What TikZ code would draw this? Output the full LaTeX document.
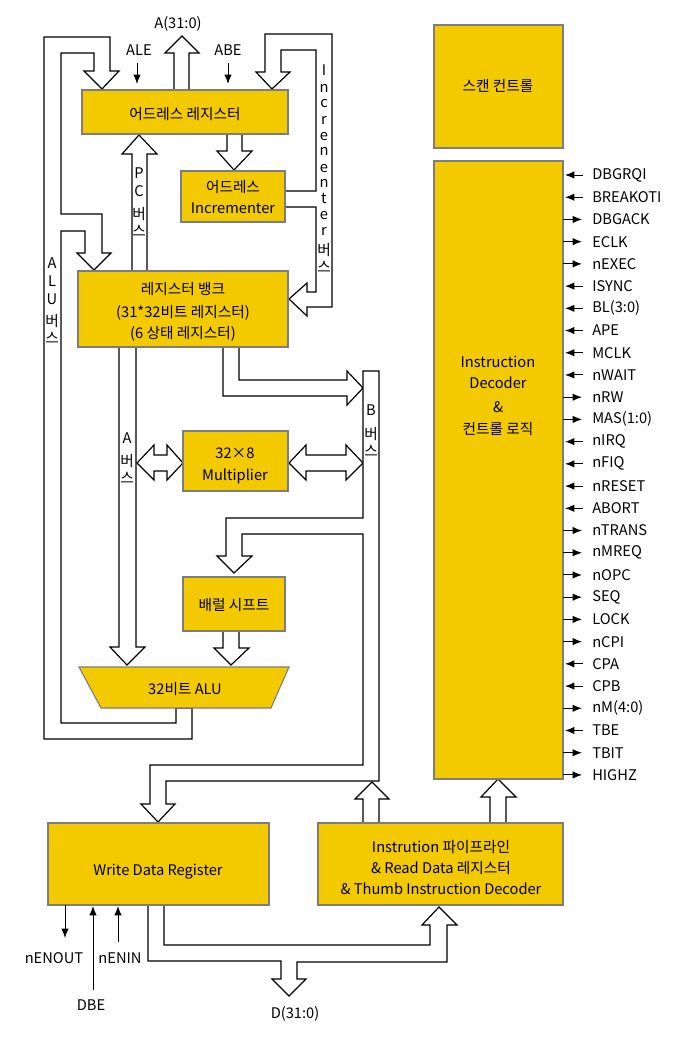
\documentclass[tikz,border=0pt]{standalone}
\usepackage{fontspec}
\setmainfont{Noto Sans CJK KR}
\usetikzlibrary{arrows.meta,fit}
\definecolor{boxyellow}{RGB}{243,201,0}
\definecolor{boxedge}{RGB}{125,125,125}
\begin{document}
\begin{tikzpicture}[x=0.75pt,y=-0.75pt,
  font=\fontsize{11}{16}\selectfont,
  bus/.style={draw=black,fill=white,line width=0.9pt,line join=miter},
  blk/.style={draw=boxedge,fill=boxyellow,line width=0.8pt,inner sep=0pt},
  sig/.style={line width=0.75pt,-{Latex[length=7pt,width=5.5pt]}},
  lbl/.style={inner sep=0pt},
  txt/.style={inner sep=0pt,anchor=base}]
\useasboundingbox (0,0) rectangle (690,1046);

% ---------- buses (drawn first, boxes on top) ----------
% A(31:0) output
\path[bus] (174,90) -- (174,53) -- (165,53) -- (182,36) -- (199,53) -- (189,53) -- (189,90) -- cycle;
% ALU bus
\path[bus] (192,708) -- (192,739) -- (44,739) -- (44,37) -- (110,37) -- (110,71) -- (119,71) -- (102,89)
  -- (84,71) -- (94,71) -- (94,53) -- (61,53) -- (61,214) -- (102,214) -- (102,253) -- (111,253)
  -- (94,270) -- (77,253) -- (85,253) -- (85,231) -- (61,231) -- (61,723) -- (176,723) -- (176,708) -- cycle;
% PC bus
\path[bus] (132,271) -- (132,154) -- (122,154) -- (139,135) -- (157,154) -- (147,154) -- (147,271) -- cycle;
% address register -> incrementer
\path[bus] (227,134) -- (227,151) -- (217,151) -- (234,170) -- (252,151) -- (242,151) -- (242,134) -- cycle;
% incrementer bus
\path[bus] (285,191) -- (316,191) -- (316,50) -- (281,50) -- (281,72) -- (290,72) -- (272,89) -- (256,72)
  -- (265,72) -- (265,34) -- (332,34) -- (332,307) -- (307,307) -- (307,316) -- (289,299) -- (307,283)
  -- (307,292) -- (316,292) -- (316,207) -- (285,207) -- cycle;
% A bus
\path[bus] (119,347) -- (119,647) -- (110,647) -- (127,665) -- (145,647) -- (136,647) -- (136,347) -- cycle;
% double arrows to multiplier
\path[bus] (137,463) -- (154,445) -- (154,455) -- (167,455) -- (167,445) -- (183,463) -- (167,480)
  -- (167,471) -- (154,471) -- (154,480) -- cycle;
\path[bus] (289,463) -- (306,445) -- (306,455) -- (346,455) -- (346,445) -- (363,463) -- (346,480)
  -- (346,471) -- (306,471) -- (306,480) -- cycle;
% register bank -> B bus
\path[bus] (223,347) -- (223,396) -- (347,396) -- (347,405) -- (363,388) -- (347,371) -- (347,380)
  -- (239,380) -- (239,347) -- cycle;
% B bus
\path[bus] (363,371) -- (379,371) -- (379,781) -- (166,781) -- (166,804) -- (175,804) -- (158,822)
  -- (141,804) -- (150,804) -- (150,765) -- (363,765) -- (363,534) -- (242,534) -- (242,556)
  -- (252,556) -- (234,573) -- (217,556) -- (226,556) -- (226,518) -- (363,518) -- cycle;
% barrel shifter -> ALU
\path[bus] (223,631) -- (223,648) -- (214,648) -- (231,665) -- (249,648) -- (239,648) -- (239,631) -- cycle;
% pipeline -> B bus
\path[bus] (363,823) -- (363,799) -- (355,799) -- (372,782) -- (389,799) -- (379,799) -- (379,823) -- cycle;
% pipeline -> decoder
\path[bus] (490,823) -- (490,797) -- (481,797) -- (498,779) -- (516,797) -- (506,797) -- (506,823) -- cycle;
% data bus
\path[bus] (148,905) -- (148,961) -- (281,961) -- (281,979) -- (272,979) -- (289,996) -- (306,979)
  -- (297,979) -- (297,962) -- (447,962) -- (447,925) -- (457,925) -- (439,907) -- (422,925)
  -- (430,925) -- (430,945) -- (164,945) -- (164,905) -- cycle;

% ---------- blocks ----------
\node[blk,fit={(82,90) (288,134)}] (ar) {};
\node[blk,fit={(181,171) (285,222)}] (inc) {};
\node[blk,fit={(78,271) (288,347)}] (rb) {};
\node[blk,fit={(183,431) (288,491)}] (mul) {};
\node[blk,fit={(183,577) (285,631)}] (bs) {};
\path[draw=boxedge,fill=boxyellow,line width=0.8pt] (79,667) -- (289,667) -- (271,708) -- (101,708) -- cycle;
\node[blk,fit={(48,823) (269,905)}] (wdr) {};
\node[blk,fit={(318,823) (563,905)}] (ipl) {};
\node[blk,fit={(434,25) (563,148)}] (scan) {};
\node[blk,fit={(434,161) (563,779)}] (dec) {};

% ---------- block texts (base lines) ----------
\node[txt] (art) at (185,119) {어드레스 레지스터};
\node[txt] (inct1) at (233,192) {어드레스};
\node[txt] (inct2) at (233,213) {Incrementer};
\node[txt] (rbt1) at (183,294) {레지스터 뱅크};
\node[txt] (rbt2) at (183,317) {(31*32비트 레지스터)};
\node[txt] (rbt3) at (183,338) {(6 상태 레지스터)};
\node[txt] (mult1) at (235,458) {32×8};
\node[txt] (mult2) at (235,480) {Multiplier};
\node[txt] (bst) at (234,610) {배럴 시프트};
\node[txt] (alut) at (185,694) {32비트 ALU};
\node[txt] (wdrt) at (158,875) {Write Data Register};
\node[txt] (iplt1) at (441,852) {Instrution 파이프라인};
\node[txt] (iplt2) at (441,873) {\& Read Data 레지스터};
\node[txt] (iplt3) at (441,894) {\& Thumb Instruction Decoder};
\node[txt] (scant) at (498,91) {스캔 컨트롤};
\node[txt] (dect1) at (498,367) {Instruction};
\node[txt] (dect2) at (498,388) {Decoder};
\node[txt] (dect3) at (498,412) {\&};
\node[txt] (dect4) at (498,434) {컨트롤 로직};

% ---------- top labels ----------
\node[txt] (aout) at (178,28) {A(31:0)};
\node[txt] (ale) at (139,55) {ALE};
\node[txt] (abe) at (228,55) {ABE};
\coordinate (aleS) at (137,63);
\coordinate (abeS) at (228,63);
\draw[sig] (aleS) -- (137,84);
\draw[sig] (abeS) -- (228,84);

% ---------- vertical bus labels ----------
\foreach \c/\yy [count=\k] in {A/268,L/286,U/304,버/326,스/343}
  \node[txt] (alul\k) at (52,\yy) {\c};
\foreach \c/\yy [count=\k] in {P/178,C/196,버/219,스/236}
  \node[txt] (pcl\k) at (139,\yy) {\c};
\foreach \c/\yy [count=\k] in {I/75,n/92,c/107,r/124,e/140,n/155,e/172,n/187,t/203,e/219,r/235,버/255,스/272}
  \node[txt] (incl\k) at (324,\yy) {\c};
\foreach \c/\yy [count=\k] in {A/443,버/466,스/483}
  \node[txt] (abl\k) at (127,\yy) {\c};
\foreach \c/\yy [count=\k] in {B/415,버/439,스/456}
  \node[txt] (bbl\k) at (371,\yy) {\c};

% ---------- decoder signals ----------
\foreach \nm/\d [count=\i from 0] in {DBGRQI/i,BREAKOTI/i,DBGACK/o,ECLK/o,nEXEC/o,ISYNC/i,BL(3:0)/i,APE/i,MCLK/i,nWAIT/i,nRW/o,MAS(1:0)/o,nIRQ/i,nFIQ/i,nRESET/i,ABORT/i,nTRANS/o,nMREQ/o,nOPC/o,SEQ/o,LOCK/o,nCPI/o,CPA/i,CPB/i,nM(4:0)/o,TBE/i,TBIT/o,HIGHZ/o}{
  \node[lbl,anchor=west] (sg\i) at (592,175+22.22*\i) {\nm};
  \coordinate (so\i) at (563,175+22.22*\i);
  \coordinate (si\i) at (583,175+22.22*\i);
  \if o\d
    \draw[sig] (so\i) -- (582,175+22.22*\i);
  \else
    \draw[sig] (si\i) -- (565,175+22.22*\i);
  \fi
}

% ---------- bottom signals ----------
\coordinate (neo) at (65,905);
\coordinate (dbeS) at (93,990);
\coordinate (neiS) at (118,942);
\draw[sig] (neo) -- (65,938);
\draw[sig] (dbeS) -- (93,906);
\draw[sig] (neiS) -- (118,906);
\node[txt] (nenout) at (54,963) {nENOUT};
\node[txt] (nenin) at (120,963) {nENIN};
\node[txt] (dbe) at (91,1010) {DBE};
\node[txt] (dout) at (295,1018) {D(31:0)};
\end{tikzpicture}
\end{document}
